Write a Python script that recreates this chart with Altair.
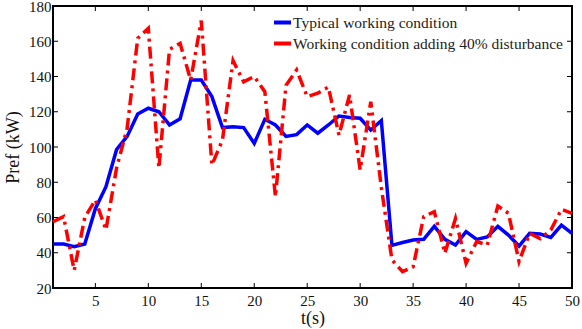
import altair as alt
import pandas as pd

# Time axis (s)
t = list(range(1, 51))

# Reference power under the typical working condition (kW)
typical = [45, 45, 43.5, 45, 65, 77.5, 98.5, 106, 118.7, 122,
           120, 112.5, 116, 138, 138, 128.6, 111, 111.5, 111, 102,
           115.7, 112.5, 106, 107, 112.5, 107.8, 112.5, 117.6, 116.8, 116.3,
           109.6, 115, 44.2, 45.8, 47.2, 47.6, 55, 47.6, 44.4, 52,
           47.6, 49, 55, 50, 43.8, 51, 50.6, 48.7, 55.7, 51]

# Reference power with a 40% disturbance added (kW)
disturbed = [57.6, 60.5, 30, 60, 70, 53, 88, 110.6, 161.7, 167.3,
             88, 155.4, 158.8, 138, 171.7, 89.8, 104, 149, 137, 140,
             131.4, 71.8, 135, 143.7, 128.6, 130.5, 134, 106.8, 129.5, 87,
             125.7, 77, 36, 29.3, 32, 60.5, 63.3, 39.7, 59.5, 34,
             46.3, 44.4, 66.5, 62.4, 35, 51, 48, 52.9, 64.6, 62.4]

series_names = ["Typical working condition",
                "Working condition adding 40% disturbance"]
series_colors = ["#0000ff", "#ff0000"]

x_ticks = [5, 10, 15, 20, 25, 30, 35, 40, 45, 50]
y_ticks = [20, 40, 60, 80, 100, 120, 140, 160, 180]

W, H = 519, 282
FONT = "Liberation Serif"

df_typ = pd.DataFrame({"t": t, "p": typical, "case": series_names[0]})
df_dist = pd.DataFrame({"t": t, "p": disturbed, "case": series_names[1]})

x_scale = alt.Scale(domain=[1, 50], nice=False, zero=False)
y_scale = alt.Scale(domain=[20, 180], nice=False, zero=False)
color = alt.Color(
    "case:N",
    scale=alt.Scale(domain=series_names, range=series_colors),
    legend=alt.Legend(
        title=None, orient="none", legendX=219, legendY=6,
        symbolType="stroke", symbolSize=289, symbolStrokeWidth=4,
        labelFont=FONT, labelFontSize=15.5, labelColor="#222222",
        labelLimit=400, rowPadding=2, labelOffset=0, padding=0,
    ),
)

x_axis = alt.Axis(values=x_ticks, ticks=False, domain=False, grid=False,
                  labelOverlap=False, labelFlush=False,
                  labelFont=FONT, labelFontSize=15, labelColor="#111111",
                  labelPadding=5, title="t(s)", titleFont=FONT,
                  titleFontSize=18, titleFontWeight="normal",
                  titleColor="#111111", titlePadding=1)
y_axis = alt.Axis(values=y_ticks, ticks=False, domain=False, grid=False,
                  labelOverlap=False, labelFlush=False,
                  labelFont=FONT, labelFontSize=15, labelColor="#111111",
                  labelPadding=2, title="Pref (kW)", titleFont=FONT,
                  titleFontSize=18, titleFontWeight="normal",
                  titleColor="#111111", titlePadding=6)


def xq():
    return alt.X("t:Q", scale=x_scale, axis=x_axis)


def yq():
    return alt.Y("p:Q", scale=y_scale, axis=y_axis)


line_typ = alt.Chart(df_typ).mark_line(strokeWidth=3.5).encode(
    x=xq(), y=yq(), color=color)
line_dist = alt.Chart(df_dist).mark_line(strokeWidth=3.5, strokeDash=[12, 5, 3, 5]).encode(
    x=xq(), y=yq(), color=color)

# Inward-pointing tick marks on all four sides of the box
xt = pd.DataFrame({"t": x_ticks})
yt = pd.DataFrame({"p": y_ticks})
tick_style = dict(color="black", strokeWidth=1)
ticks_bottom = alt.Chart(xt).mark_rule(**tick_style).encode(
    x=xq(), y=alt.value(H - 5), y2=alt.value(H))
ticks_top = alt.Chart(xt).mark_rule(**tick_style).encode(
    x=xq(), y=alt.value(0), y2=alt.value(5))
ticks_left = alt.Chart(yt).mark_rule(**tick_style).encode(
    y=yq(), x=alt.value(0), x2=alt.value(5))
ticks_right = alt.Chart(yt).mark_rule(**tick_style).encode(
    y=yq(), x=alt.value(W - 5), x2=alt.value(W))

chart = alt.layer(
    line_typ, line_dist, ticks_bottom, ticks_top, ticks_left, ticks_right
).properties(
    width=W, height=H,
    autosize=alt.AutoSizeParams(type="none"),
    padding={"left": 53, "top": 6, "right": 10, "bottom": 41},
    background="white",
).configure_view(
    stroke="black", strokeWidth=2
)

chart.save("out.html", embed_options={"renderer": "svg", "actions": False})
